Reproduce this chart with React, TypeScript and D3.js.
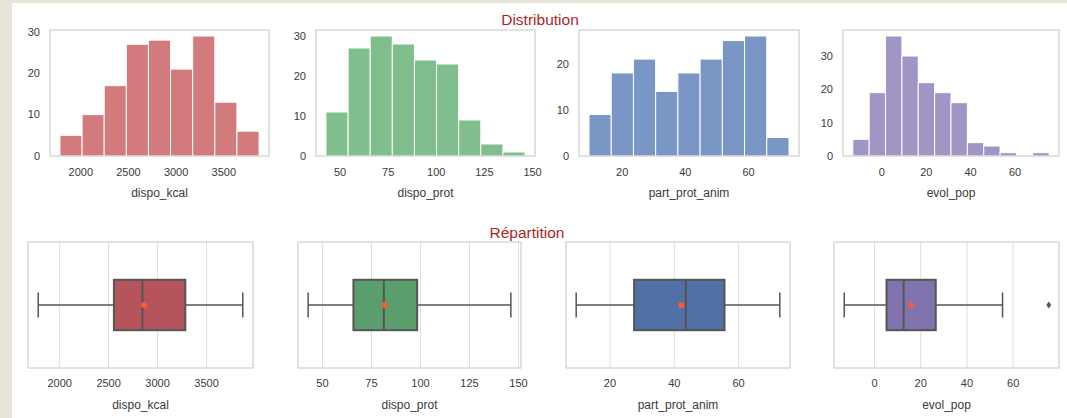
import React from "react";
import * as d3 from "d3";

// variables shown in both rows
const variables = ["dispo_kcal", "dispo_prot", "part_prot_anim", "evol_pop"];

// histogram counts per bin (bins span data min..max)
const kcalCounts = [5, 10, 17, 27, 28, 21, 29, 13, 6];
const protCounts = [11, 27, 30, 28, 24, 23, 9, 3, 1];
const animCounts = [9, 18, 21, 14, 18, 21, 25, 26, 4];
const popCounts = [5, 19, 36, 30, 22, 19, 16, 4, 3, 1, 0, 1];
const allCounts = [kcalCounts, protCounts, animCounts, popCounts];

// data range
const dataMin = [1781, 42.7, 9.5, -13.1];
const dataMax = [3870, 146.1, 72.8, 75.4];

// box plot stats
const whiskerLow = [1781, 42.7, 9.5, -13.1];
const q1 = [2554, 65.8, 27.5, 5.2];
const median = [2845, 81.3, 43.6, 12.6];
const q3 = [3283, 98.3, 55.6, 26.5];
const whiskerHigh = [3870, 146.1, 72.8, 55.4];
const means = [2862, 81.8, 42.2, 15.8];
const outliers = [[], [], [], [75.4]];

// ticks
const xTicks = [
  [2000, 2500, 3000, 3500],
  [50, 75, 100, 125, 150],
  [20, 40, 60],
  [0, 20, 40, 60],
];
const yTicks = [
  [0, 10, 20, 30],
  [0, 10, 20, 30],
  [0, 10, 20],
  [0, 10, 20, 30],
];

const histColors = ["#d37a7d", "#80be8e", "#7996c4", "#a195c5"];
const boxColors = ["#b5545a", "#5a9e6c", "#5170a5", "#8073ae"];

const W = 1067;
const H = 418;
const font = "'Liberation Sans', Arial, sans-serif";
const textColor = "#3a3a3a";
const spine = "#cfcfcf";
const edge = "#555555";

// layout
const histLeft = [50, 316, 579, 843];
const histRight = [269, 535, 799, 1059];
const histTop = 30;
const histBottom = 156;
const boxLeft = [28, 298, 566, 834];
const boxRight = [253, 521, 790, 1059];
const boxTop = 242;
const boxBottom = 368;

const xScaleFor = (i: number, left: number, right: number) => {
  const pad = (dataMax[i] - dataMin[i]) * 0.05;
  return d3
    .scaleLinear()
    .domain([dataMin[i] - pad, dataMax[i] + pad])
    .range([left, right]);
};

const Hist = ({ i }: { i: number }) => {
  const counts = allCounts[i];
  const x = xScaleFor(i, histLeft[i], histRight[i]);
  const y = d3
    .scaleLinear()
    .domain([0, (d3.max(counts) as number) * 1.05])
    .range([histBottom, histTop]);
  const n = counts.length;
  const step = (dataMax[i] - dataMin[i]) / n;
  const cx = (histLeft[i] + histRight[i]) / 2;
  return (
    <g>
      {counts.map((c, k) => {
        const x0 = x(dataMin[i] + k * step);
        const x1 = x(dataMin[i] + (k + 1) * step);
        return c > 0 ? (
          <rect
            key={k}
            x={x0}
            y={y(c)}
            width={x1 - x0}
            height={y(0) - y(c)}
            fill={histColors[i]}
            stroke="#ffffff"
            strokeWidth={1}
          />
        ) : null;
      })}
      <rect
        x={histLeft[i]}
        y={histTop}
        width={histRight[i] - histLeft[i]}
        height={histBottom - histTop}
        fill="none"
        stroke={spine}
        strokeWidth={1.2}
      />
      {xTicks[i].map((t) => (
        <text key={t} x={x(t)} y={176} textAnchor="middle" fontSize={11} fill={textColor}>
          {t}
        </text>
      ))}
      {yTicks[i].map((t) => (
        <text
          key={t}
          x={histLeft[i] - 10}
          y={y(t)}
          dy="0.35em"
          textAnchor="end"
          fontSize={11}
          fill={textColor}
        >
          {t}
        </text>
      ))}
      <text x={cx} y={197} textAnchor="middle" fontSize={12} fill={textColor}>
        {variables[i]}
      </text>
    </g>
  );
};

const Box = ({ i }: { i: number }) => {
  const x = xScaleFor(i, boxLeft[i], boxRight[i]);
  const y = d3.scaleLinear().domain([-0.5, 0.5]).range([boxBottom, boxTop]);
  const half = 0.2;
  const cap = 0.1;
  const cx = (boxLeft[i] + boxRight[i]) / 2;
  return (
    <g>
      {xTicks[i].map((t) => (
        <line key={t} x1={x(t)} x2={x(t)} y1={boxTop} y2={boxBottom} stroke="#dedede" strokeWidth={1} />
      ))}
      <rect
        x={boxLeft[i]}
        y={boxTop}
        width={boxRight[i] - boxLeft[i]}
        height={boxBottom - boxTop}
        fill="none"
        stroke={spine}
        strokeWidth={1.2}
      />
      {/* whiskers */}
      <line x1={x(whiskerLow[i])} x2={x(q1[i])} y1={y(0)} y2={y(0)} stroke={edge} strokeWidth={1.5} />
      <line x1={x(q3[i])} x2={x(whiskerHigh[i])} y1={y(0)} y2={y(0)} stroke={edge} strokeWidth={1.5} />
      <line x1={x(whiskerLow[i])} x2={x(whiskerLow[i])} y1={y(cap)} y2={y(-cap)} stroke={edge} strokeWidth={1.5} />
      <line x1={x(whiskerHigh[i])} x2={x(whiskerHigh[i])} y1={y(cap)} y2={y(-cap)} stroke={edge} strokeWidth={1.5} />
      <rect
        x={x(q1[i])}
        y={y(half)}
        width={x(q3[i]) - x(q1[i])}
        height={y(-half) - y(half)}
        fill={boxColors[i]}
        stroke={edge}
        strokeWidth={2}
      />
      <line x1={x(median[i])} x2={x(median[i])} y1={y(half)} y2={y(-half)} stroke={edge} strokeWidth={2} />
      <circle cx={x(means[i])} cy={y(0)} r={3} fill="#ff5a36" />
      {outliers[i].map((o, k) => (
        <path
          key={k}
          transform={`translate(${x(o)},${y(0)})`}
          d="M0,-3.6L2.4,0L0,3.6L-2.4,0Z"
          fill="#555555"
        />
      ))}
      {xTicks[i].map((t) => (
        <text key={t} x={x(t)} y={387} textAnchor="middle" fontSize={11} fill={textColor}>
          {t}
        </text>
      ))}
      <text x={cx} y={409} textAnchor="middle" fontSize={12} fill={textColor}>
        {variables[i]}
      </text>
    </g>
  );
};

export default function App() {
  return (
    <div style={{ position: "absolute", left: 0, top: 0 }}>
      <svg width={W} height={H} fontFamily={font} style={{ display: "block" }}>
        <rect x={0} y={0} width={W} height={H} fill="#ffffff" />
        <rect x={0} y={0} width={W} height={3} fill="#e9e4d9" />
        <rect x={0} y={0} width={12} height={H} fill="#e9e4d9" />
        <text x={540} y={25} textAnchor="middle" fontSize={15.5} fill="#ad1f1f">
          Distribution
        </text>
        <text x={527} y={238} textAnchor="middle" fontSize={15.5} fill="#ad1f1f">
          Répartition
        </text>
        {variables.map((v, i) => (
          <Hist key={v} i={i} />
        ))}
        {variables.map((v, i) => (
          <Box key={v} i={i} />
        ))}
      </svg>
    </div>
  );
}
